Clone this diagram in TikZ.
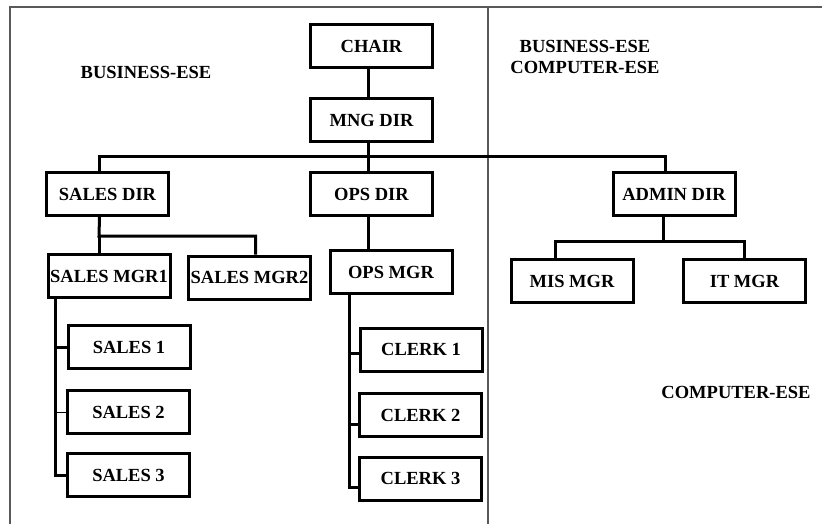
\documentclass[tikz,border=0pt]{standalone}
\usepackage{fontspec}
\setmainfont{Liberation Serif}
\usepackage{tikz}
\usetikzlibrary{positioning}

\begin{document}
\begin{tikzpicture}[x=1pt,y=-1pt,
  box/.style={draw,line width=3pt,minimum width=122pt,minimum height=43pt,inner sep=0pt,
    font=\fontsize{18.5}{21}\selectfont\bfseries},
  link/.style={line width=3pt},
  lbl/.style={font=\fontsize{18.5}{21}\selectfont\bfseries,align=center}]
\useasboundingbox (0,0) rectangle (822,524);
\draw[gray!70!black,line width=1.3pt] (10,524) -- (10,7) -- (822,7);
\draw[gray!70!black,line width=1.3pt] (488,7) -- (488,524);
% labels
\node[lbl] (busL) at (146,72) {BUSINESS-ESE};
\node[lbl] (busR) at (585,57) {BUSINESS-ESE\\COMPUTER-ESE};
\node[lbl] (comp) at (736,392) {COMPUTER-ESE};
% boxes
\node[box] (chair) at (371.5,46) {CHAIR};
\node[box] (mngdir) at (371.5,120.5) {MNG DIR};
\node[box] (salesdir) at (107.5,194) {SALES DIR};
\node[box] (opsdir) at (371.5,194) {OPS DIR};
\node[box] (admindir) at (674,194) {ADMIN DIR};
\node[box] (salesmgr1) at (109,276) {SALES MGR1};
\node[box] (salesmgr2) at (249.5,277.5) {SALES MGR2};
\node[box] (opsmgr) at (391,272) {OPS MGR};
\node[box] (mismgr) at (572,281) {MIS MGR};
\node[box] (itmgr) at (744.5,281) {IT MGR};
\node[box] (sales1) at (129,347) {SALES 1};
\node[box] (sales2) at (128.5,412) {SALES 2};
\node[box] (sales3) at (128.5,475) {SALES 3};
\node[box] (clerk1) at (421,349.5) {CLERK 1};
\node[box] (clerk2) at (420.5,415) {CLERK 2};
\node[box] (clerk3) at (420.5,478.5) {CLERK 3};
% connectors
\coordinate (bus) at (368,157);
\coordinate (sdbus) at (99,236);
\coordinate (abus) at (663,241);
\coordinate (strunk) at (55,299);
\coordinate (ctrunk) at (349,295);
\draw[link] (chair.south -| bus) -- (mngdir.north -| bus);
\draw[link] (mngdir.south -| bus) -- (bus) -| ([xshift=-8pt]salesdir.north);
\draw[link] (bus) -| ([xshift=-9pt]admindir.north);
\draw[link] (bus) -- (opsdir.north -| bus);
\draw[link] ([xshift=-8pt]salesdir.south) -- (sdbus) -| ([xshift=6pt]salesmgr2.north);
\draw[link] (sdbus) -- (salesmgr1.north -| sdbus);
\draw[link] (opsdir.south -| bus) -- (opsmgr.north -| bus);
\draw[link] (admindir.south -| abus) -- (abus) -| ([xshift=-17pt]mismgr.north);
\draw[link] (abus) -| (itmgr.north);
\draw[link] (strunk) |- (sales3.west);
\draw[link] (strunk |- sales1.west) -- (sales1.west);
\draw[thin] (strunk |- sales2.west) -- (sales2.west);
\draw[link] (ctrunk) |- ([yshift=-9pt]clerk3.west);
\draw[link] ([yshift=-4pt]clerk1.west -| ctrunk) -- ([yshift=-4pt]clerk1.west);
\draw[link] ([yshift=-9pt]clerk2.west -| ctrunk) -- ([yshift=-9pt]clerk2.west);
\end{tikzpicture}
\end{document}
